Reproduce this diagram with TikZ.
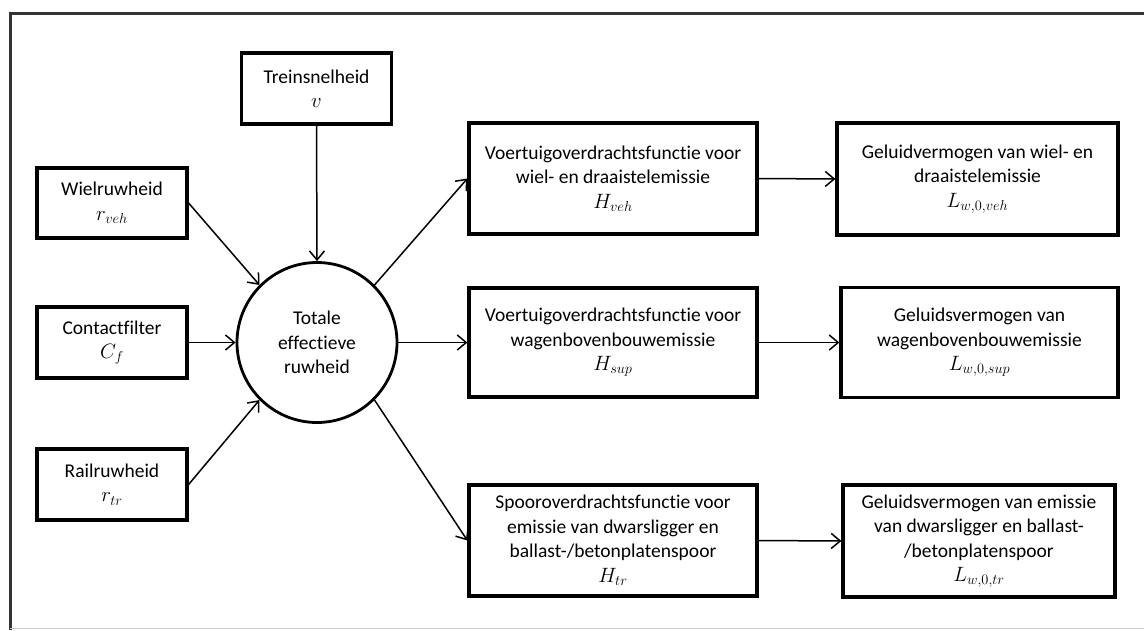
\documentclass[tikz,border=0pt]{standalone}
\usepackage{fontspec}
\setmainfont{Carlito}[Ligatures=NoCommon]
\usetikzlibrary{arrows.meta}
\begin{document}
\begin{tikzpicture}[x=1pt,y=-1pt,
  every node/.style={font=\fontsize{19.5}{24.5}\selectfont, align=center, inner sep=0pt},
  blok/.style={draw, line width=3.2pt, rectangle},
  rond/.style={draw, line width=2.8pt, circle, minimum size=160pt},
  pijl/.style={line width=1.5pt, -{Straight Barb[length=9pt,width=15pt,line width=1.5pt]}}
]
\useasboundingbox (0,0) rectangle (1144,630);
% frame
\draw[line width=3pt, black!80] (10,630) -- (10,13) -- (1144,13);
\draw[line width=1pt, black!20] (10,628.5) -- (1144,628.5);

% inputs
\node[blok, minimum width=150pt, minimum height=71pt] (trein) at (316.5,88.5) {Treinsnelheid\\ $v$};
\node[blok, minimum width=150pt, minimum height=70pt] (wiel) at (112,203) {Wielruwheid\\ $r_{veh}$};
\node[blok, minimum width=150pt, minimum height=71pt] (cf) at (112,342.5) {Contactfilter\\ $C_f$};
\node[blok, minimum width=150pt, minimum height=71pt] (rail) at (112,484.5) {Railruwheid\\ $r_{tr}$};

% total roughness
\node[rond] (tot) at (317,342.5) {Totale\\ effectieve\\ ruwheid};

% transfer functions
\node[blok, minimum width=288pt, minimum height=111pt] (hveh) at (613,178.5) {Voertuigoverdrachtsfunctie voor\\ wiel- en draaistelemissie\\ $H_{veh}$};
\node[blok, minimum width=288pt, minimum height=109pt] (hsup) at (613,342.5) {Voertuigoverdrachtsfunctie voor\\ wagenbovenbouwemissie\\ $H_{sup}$};
\node[blok, minimum width=288pt, minimum height=111pt] (htr) at (613,540.5) {Spooroverdrachtsfunctie voor\\ emissie van dwarsligger en\\ ballast-/betonplatenspoor\\ $H_{tr}$};

% sound power levels
\node[blok, minimum width=281pt, minimum height=112pt] (lveh) at (977.5,179) {Geluidvermogen van wiel- en\\ draaistelemissie\\ $L_{w,0,veh}$};
\node[blok, minimum width=277pt, minimum height=110pt] (lsup) at (979.5,342.5) {Geluidsvermogen van\\ wagenbovenbouwemissie\\ $L_{w,0,sup}$};
\node[blok, minimum width=272pt, minimum height=112pt] (ltr) at (979,541) {Geluidsvermogen van emissie\\ van dwarsligger en ballast-\\ /betonplatenspoor\\ $L_{w,0,tr}$};

% connectors
\draw[pijl] (trein.south) -- (tot.north);
\draw[pijl] (wiel.east) -- (tot.135);
\draw[pijl] (cf.east) -- (tot.west);
\draw[pijl] (rail.east) -- (tot.225);
\draw[pijl] (tot.45) -- (hveh.west);
\draw[pijl] (tot.east) -- (hsup.west);
\draw[pijl] (tot.-45) -- (htr.west);
\draw[pijl] (hveh.east) -- (lveh.west);
\draw[pijl] (hsup.east) -- (lsup.west);
\draw[pijl] (htr.east) -- (ltr.west);
\end{tikzpicture}
\end{document}
